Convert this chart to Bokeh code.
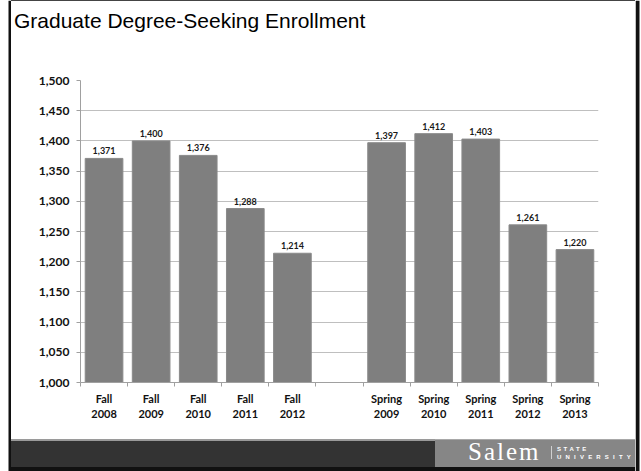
from bokeh.plotting import figure
from bokeh.models import Range1d, FixedTicker, NumeralTickFormatter, Div
from bokeh.layouts import row, column
from bokeh.core.properties import value
from bokeh.embed import file_html
from bokeh.resources import INLINE

title_text = "Graduate Degree-Seeking Enrollment"
categories = ["Fall 2008", "Fall 2009", "Fall 2010", "Fall 2011", "Fall 2012", "",
              "Spring 2009", "Spring 2010", "Spring 2011", "Spring 2012", "Spring 2013"]
enrollment = [1371, 1400, 1376, 1288, 1214, None, 1397, 1412, 1403, 1261, 1220]
y_ticks = [1000, 1050, 1100, 1150, 1200, 1250, 1300, 1350, 1400, 1450, 1500]
logo_name = "Salem"
logo_sub1 = "STATE"
logo_sub2 = "UNIVERSITY"

centers = [i + 0.5 for i in range(len(categories))]
xs = [c for c, v in zip(centers, enrollment) if v is not None]
vals = [v for v in enrollment if v is not None]
val_labels = [f"{v:,}" for v in vals]

# page regions (screen px)
X0, X1 = 11, 635          # inner slide area
IW = X1 - X0
HEAD_H, FOOT_H = 40, 33
TOTAL_H = 471
CHART_H = TOTAL_H - HEAD_H - FOOT_H
FL, FR, FT, FB = 80, 598, 80, 382   # plot frame edges


def strip(w, x_lo, x_hi, b_lo, b_hi):
    f = figure(width=w, height=TOTAL_H, x_range=Range1d(x_lo, x_hi), y_range=Range1d(TOTAL_H, 0),
               output_backend="svg", toolbar_location=None, title=None,
               x_axis_type=None, y_axis_type=None,
               min_border_left=0, min_border_right=0, min_border_top=0, min_border_bottom=0)
    f.outline_line_color = None
    f.xgrid.visible = False
    f.ygrid.visible = False
    f.background_fill_color = "white"
    f.border_fill_color = "white"
    f.quad(left=b_lo, right=b_hi, top=0, bottom=TOTAL_H, fill_color="#111111", line_color=None)
    return f


left = strip(X0, 0, X0, 8, X0)
right = strip(641 - X1, X1, 641, X1, 639)


def box(l, t, w, h, color):
    return (f'<div style="position:absolute;left:{l}px;top:{t}px;width:{w}px;'
            f'height:{h}px;background:{color};"></div>')


# header with slide title
head_html = (
    f'<div style="position:relative;width:{IW}px;height:{HEAD_H}px;background:white;overflow:hidden;">'
    + box(0, 0, IW, 1, "#444444")
    + f'<div style="position:absolute;left:3px;top:10px;font-family:\'Liberation Sans\';'
      f'font-size:21px;line-height:21px;color:black;white-space:nowrap;">{title_text}</div>'
    + '</div>')
head = Div(text=head_html, width=IW, height=HEAD_H, margin=0)

# chart
p = figure(width=IW, height=CHART_H, x_range=Range1d(0, len(categories)),
           y_range=Range1d(y_ticks[0], y_ticks[-1]), output_backend="svg",
           toolbar_location=None, title=None,
           min_border_left=FL - X0, min_border_right=X1 - FR,
           min_border_top=FT - HEAD_H, min_border_bottom=HEAD_H + CHART_H - FB)
p.outline_line_color = None
p.background_fill_color = "white"
p.border_fill_color = "white"

p.vbar(x=xs, top=vals, bottom=y_ticks[0], width=0.8,
       fill_color="#7f7f7f", line_color="#8a8a8a", line_width=1)

p.text(x=xs, y=vals, text=val_labels, text_font=value("Lato"),
       text_font_style="bold", text_font_size="9px", text_color="#1a1a1a",
       text_align="center", text_baseline="bottom", y_offset=-4)

p.xgrid.visible = False
p.ygrid.ticker = FixedTicker(ticks=y_ticks)
p.ygrid.grid_line_color = "#bfbfbf"
p.ygrid.grid_line_width = 1

xa = p.xaxis[0]
xa.ticker = FixedTicker(ticks=centers, minor_ticks=list(range(len(categories) + 1)))
xa.major_label_overrides = {c: lab.replace(" ", "\n") for c, lab in zip(centers, categories)}
xa.major_tick_line_color = None
xa.major_tick_out = 0
xa.major_tick_in = 0
xa.minor_tick_out = 4
xa.minor_tick_in = 0
xa.minor_tick_line_color = "#a0a0a0"
xa.axis_line_color = "#a0a0a0"
xa.major_label_text_font = "Lato"
xa.major_label_text_font_style = "bold"
xa.major_label_text_font_size = "11px"
xa.major_label_text_color = "#111111"
xa.major_label_standoff = 5

ya = p.yaxis[0]
ya.ticker = FixedTicker(ticks=y_ticks)
ya.formatter = NumeralTickFormatter(format="0,0")
ya.minor_tick_line_color = None
ya.major_tick_out = 4
ya.major_tick_in = 0
ya.major_tick_line_color = "#a0a0a0"
ya.axis_line_color = "#a0a0a0"
ya.major_label_text_font = "Lato"
ya.major_label_text_font_style = "bold"
ya.major_label_text_font_size = "12px"
ya.major_label_text_color = "#111111"
ya.major_label_standoff = 7

# footer bar with logo
F0 = HEAD_H + CHART_H  # 438
split = 435 - X0
foot_html = (
    f'<div style="position:relative;width:{IW}px;height:{FOOT_H}px;background:white;overflow:hidden;">'
    + box(0, 439 - F0, split, 2, "#9a9a9a")
    + box(0, 441 - F0, split, 26, "#333333")
    + box(split, 439 - F0, IW - split, 28, "#868686")
    + box(split, 439 - F0, IW - split, 1, "#a8a8a8")
    + box(0, 467 - F0, IW, 4, "#111111")
    + f'<div style="position:absolute;left:{468 - X0}px;top:1px;font-family:\'Liberation Serif\';'
      f'font-size:25px;line-height:25px;letter-spacing:2px;color:white;white-space:nowrap;">{logo_name}</div>'
    + box(551 - X0, 446 - F0, 1, 13, "#d0d0d0")
    + f'<div style="position:absolute;left:{557 - X0}px;top:8px;font-family:\'Liberation Sans\';'
      f'font-size:6px;line-height:6px;font-weight:bold;letter-spacing:2.6px;color:white;'
      f'white-space:nowrap;">{logo_sub1}</div>'
    + f'<div style="position:absolute;left:{557 - X0}px;top:16px;font-family:\'Liberation Sans\';'
      f'font-size:6px;line-height:6px;font-weight:bold;letter-spacing:4.2px;color:white;'
      f'white-space:nowrap;">{logo_sub2}</div>'
    + '</div>')
foot = Div(text=foot_html, width=IW, height=FOOT_H, margin=0)

layout = row(left, column(head, p, foot, spacing=0), right, spacing=0)
open("out.html", "w").write(file_html(layout, INLINE))
